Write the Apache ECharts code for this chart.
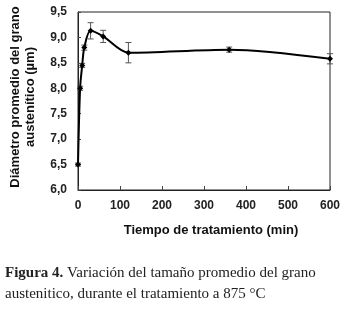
<!DOCTYPE html>
<html><head><meta charset="utf-8">
<script src="https://cdn.jsdelivr.net/npm/echarts@6/dist/echarts.min.js"></script>
<style>html,body{margin:0;padding:0;background:#fff}#c{width:345px;height:309px}</style>
</head><body><div id="c"></div>
<script>
var times = [0, 5, 10, 15, 30, 60, 120, 360, 600];
var diameters = [6.5, 8.0, 8.45, 8.8, 9.13, 9.02, 8.7, 8.76, 8.58];
var errors = [0.03, 0.04, 0.04, 0.05, 0.16, 0.12, 0.2, 0.05, 0.1];
var xTicks = [0, 100, 200, 300, 400, 500, 600];
var yTicks = [6.0, 6.5, 7.0, 7.5, 8.0, 8.5, 9.0, 9.5];

var chart = echarts.init(document.getElementById('c'), null, {renderer:'canvas'});
var lineData = times.map(function(t,i){return [t, diameters[i]];});
var errData = times.map(function(t,i){return [t, diameters[i]-errors[i], diameters[i]+errors[i]];});
var font = 'Liberation Sans, Arial, sans-serif';
chart.setOption({
  animation:false,
  grid:{left:76, right:15, top:12, bottom:119, show:true, borderColor:'#222', borderWidth:1},
  xAxis:{type:'value', min:xTicks[0], max:xTicks[xTicks.length-1], interval:100,
    axisLine:{show:true, lineStyle:{color:'#222'}}, axisTick:{show:true, inside:true, length:4, lineStyle:{color:'#444'}},
    splitLine:{show:false},
    axisLabel:{color:'#222', fontWeight:'bold', fontSize:12, fontFamily:font, margin:10},
    name:'Tiempo de tratamiento (min)', nameLocation:'middle', nameGap:34,
    nameTextStyle:{color:'#111', fontWeight:'bold', fontSize:13, fontFamily:font, padding:[0,0,0,14]}},
  yAxis:{type:'value', min:yTicks[0], max:yTicks[yTicks.length-1], interval:0.5,
    axisLine:{show:true, lineStyle:{color:'#222'}}, axisTick:{show:true, inside:true, length:3, lineStyle:{color:'#444'}},
    splitLine:{show:false},
    axisLabel:{color:'#222', fontWeight:'bold', fontSize:12, fontFamily:font, margin:11,
      formatter:function(v){return v.toFixed(1).replace('.',',');}},
    name:'Diámetro promedio del grano\naustenítico (µm)', nameLocation:'middle', nameGap:40,
    nameTextStyle:{color:'#111', fontWeight:'bold', fontSize:13, fontFamily:font, lineHeight:15, padding:[0,0,0,8]}},
  series:[
    {type:'line', data:lineData, smooth:0.3, symbol:'diamond', symbolSize:6,
      lineStyle:{color:'#000', width:2}, itemStyle:{color:'#000'}},
    {type:'custom', data:errData, z:1,
      renderItem:function(params, api){
        var x = api.value(0);
        var lo = api.coord([x, api.value(1)]);
        var hi = api.coord([x, api.value(2)]);
        var w = 3;
        return {type:'group', children:[
          {type:'line', shape:{x1:lo[0], y1:lo[1], x2:hi[0], y2:hi[1]}, style:{stroke:'#555', lineWidth:1}},
          {type:'line', shape:{x1:lo[0]-w, y1:lo[1], x2:lo[0]+w, y2:lo[1]}, style:{stroke:'#555', lineWidth:1}},
          {type:'line', shape:{x1:hi[0]-w, y1:hi[1], x2:hi[0]+w, y2:hi[1]}, style:{stroke:'#555', lineWidth:1}}
        ]};
      }}
  ],
  graphic:[
    {type:'text', left:5, top:266, style:{text:'{b|Figura 4.} Variación del tamaño promedio del grano', rich:{b:{fontWeight:'bold', fontFamily:'Liberation Serif, serif', fontSize:15, fill:'#222'}}, fontFamily:'Liberation Serif, serif', fontSize:15, fill:'#222'}},
    {type:'text', left:5, top:287, style:{text:'austenitico, durante el tratamiento a 875 °C', fontFamily:'Liberation Serif, serif', fontSize:15, fill:'#222'}}
  ]
});
</script></body></html>
